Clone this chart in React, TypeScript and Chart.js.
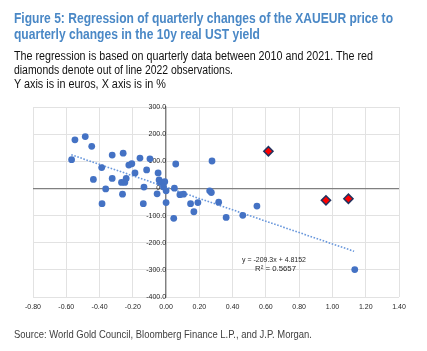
import React, { useEffect, useLayoutEffect, useRef } from 'react';
import { Chart, registerables } from 'chart.js';

Chart.register(...registerables);

// 2010-2021 quarterly observations (x: change in 10y real UST yield, %, y: change in XAUEUR, EUR)
const obsX = [
  -0.548, -0.486, -0.447, -0.568, -0.387, -0.437, -0.363, -0.385, -0.324, -0.324,
  -0.258, -0.268, -0.248, -0.24, -0.262, -0.224, -0.206, -0.187, -0.157, -0.097,
  -0.117, -0.133, -0.137, -0.048, -0.042, -0.036, -0.008, -0.054, -0.016, 0.0,
  0.0, 0.058, 0.05, 0.046, 0.083, 0.105, 0.147, 0.167, 0.191, 0.276,
  0.262, 0.272, 0.316, 0.361, 0.461, 0.546, 1.134,
];
const obsY = [
  179, 191, 155, 106, 77, 33, -2, -56, 123, 37,
  130, 22, 22, 37, -21, 86, 91, 57, 112, 109,
  68, 5, -56, 57, 31, 22, 25, -20, 6, -9,
  -52, 90, 1, -110, -23, -21, -56, -86, -52, 101,
  -9, -15, -51, -107, -99, -65, -299,
];

// 2022 out-of-line observations (red diamonds)
const obs2022X = [0.615, 0.961, 1.096];
const obs2022Y = [137, -44, -38];

// Linear trendline endpoints: y = -209.3x + 4.8152
const trendX = [-0.57, 1.13];
const trendY = [124.1, -231.7];

const xTickValues = [-0.8, -0.6, -0.4, -0.2, 0, 0.2, 0.4, 0.6, 0.8, 1.0, 1.2, 1.4];
const yTickValues = [300, 200, 100, 0, -100, -200, -300, -400];

const titleLines = [
  'Figure 5: Regression of quarterly changes of the XAUEUR price to',
  'quarterly changes in the 10y real UST yield',
];
const subtitleLines = [
  'The regression is based on quarterly data between 2010 and 2021. The red',
  'diamonds denote out of line 2022 observations.',
  'Y axis is in euros, X axis is in %',
];
const sourceText = 'Source: World Gold Council, Bloomberg Finance L.P., and J.P. Morgan.';
const equationLines = ['y = -209.3x + 4.8152', 'R² = 0.5657'];

const FONT = '"Liberation Sans", Arial, Helvetica, sans-serif';

type FitProps = {
  text: string;
  left: number;
  baseline: number;
  width: number;
  size: number;
  weight?: number;
  color: string;
  align?: 'left' | 'center';
};

function FitText({ text, left, baseline, width, size, weight = 400, color, align = 'left' }: FitProps) {
  const ref = useRef<HTMLSpanElement>(null);
  useLayoutEffect(() => {
    const el = ref.current;
    if (!el) return;
    el.style.transform = 'none';
    const w = el.getBoundingClientRect().width;
    const s = w > 0 ? width / w : 1;
    el.style.transform = `scaleX(${s})`;
  }, [text, width, size]);
  const top = baseline - 0.8465 * size;
  const x = align === 'center' ? left - width / 2 : left;
  return (
    <span
      ref={ref}
      style={{
        position: 'absolute',
        left: x,
        top,
        fontFamily: FONT,
        fontSize: size,
        lineHeight: `${size}px`,
        fontWeight: weight,
        color,
        whiteSpace: 'nowrap',
        transformOrigin: 'left top',
        display: 'inline-block',
      }}
    >
      {text}
    </span>
  );
}

export default function App() {
  const canvasRef = useRef<HTMLCanvasElement>(null);

  useEffect(() => {
    const canvas = canvasRef.current;
    if (!canvas) return;
    const chart = new Chart(canvas, {
      type: 'scatter',
      data: {
        datasets: [
          {
            label: '2022',
            data: obs2022X.map((x, i) => ({ x, y: obs2022Y[i] })),
            pointStyle: 'rectRot',
            pointRadius: 4.6,
            backgroundColor: '#ff0000',
            borderColor: '#22325e',
            borderWidth: 1.5,
          },
          {
            label: '2010-2021',
            data: obsX.map((x, i) => ({ x, y: obsY[i] })),
            pointRadius: 3.4,
            backgroundColor: '#4472c4',
            borderColor: '#4472c4',
            borderWidth: 0,
          },
          {
            type: 'line',
            label: 'Trend',
            data: trendX.map((x, i) => ({ x, y: trendY[i] })),
            showLine: true,
            borderColor: '#6a98dc',
            borderWidth: 1.6,
            borderDash: [1.6, 1.6],
            pointRadius: 0,
            fill: false,
          } as any,
        ],
      },
      options: {
        responsive: false,
        animation: false,
        devicePixelRatio: 1,
        layout: { padding: { left: 33, right: 28, top: 107, bottom: 40 } },
        plugins: {
          legend: { display: false },
          tooltip: { enabled: false },
          title: { display: false },
        },
        scales: {
          x: {
            type: 'linear',
            position: 'bottom',
            min: -0.8,
            max: 1.4,
            afterBuildTicks: (scale: any) => {
              scale.ticks = xTickValues.map((v) => ({ value: v }));
            },
            afterFit: (scale: any) => {
              scale.height = 14;
            },
            ticks: {
              padding: 6,
              color: '#262626',
              font: { family: FONT, size: 7 },
              maxRotation: 0,
              autoSkip: false,
              callback: (v: any) => (Math.round(Number(v) * 100) / 100).toFixed(2),
            },
            grid: { color: '#e2e2e2', lineWidth: 1, drawTicks: false },
            border: { display: false },
          },
          y: {
            type: 'linear',
            position: { x: 0 } as any,
            min: -400,
            max: 300,
            afterBuildTicks: (scale: any) => {
              scale.ticks = yTickValues.map((v) => ({ value: v }));
            },
            ticks: {
              padding: 7,
              color: '#262626',
              font: { family: FONT, size: 7 },
              autoSkip: false,
              callback: (v: any) => Number(v).toFixed(1),
            },
            grid: {
              color: (ctx: any) => (ctx.tick && ctx.tick.value === 0 ? '#808080' : '#e2e2e2'),
              lineWidth: (ctx: any) => (ctx.tick && ctx.tick.value === 0 ? 1.3 : 1),
              drawTicks: false,
            },
            border: { display: true, color: '#808080', width: 1.3 },
          },
        },
      },
    });
    return () => chart.destroy();
  }, []);

  return (
    <div style={{ position: 'absolute', left: 0, top: 0, width: 427, height: 351, background: '#fff', overflow: 'hidden' }}>
      <canvas ref={canvasRef} width={427} height={351} style={{ position: 'absolute', left: 0, top: 0, width: 427, height: 351 }} />
      <FitText text={titleLines[0]} left={14} baseline={23} width={379} size={14} weight={700} color="#4a88c6" />
      <FitText text={titleLines[1]} left={14} baseline={38.5} width={246} size={14} weight={700} color="#4a88c6" />
      <FitText text={subtitleLines[0]} left={14} baseline={60.5} width={359} size={12} color="#111" />
      <FitText text={subtitleLines[1]} left={14} baseline={74.5} width={219} size={12} color="#111" />
      <FitText text={subtitleLines[2]} left={14} baseline={88.5} width={152} size={12} color="#111" />
      <FitText text={equationLines[0]} left={273.8} baseline={262.3} width={64} size={7.5} color="#262626" align="center" />
      <FitText text={equationLines[1]} left={275.5} baseline={271.5} width={41} size={7.5} color="#262626" align="center" />
      <FitText text={sourceText} left={14} baseline={338.5} width={298} size={11} color="#404040" />
    </div>
  );
}
